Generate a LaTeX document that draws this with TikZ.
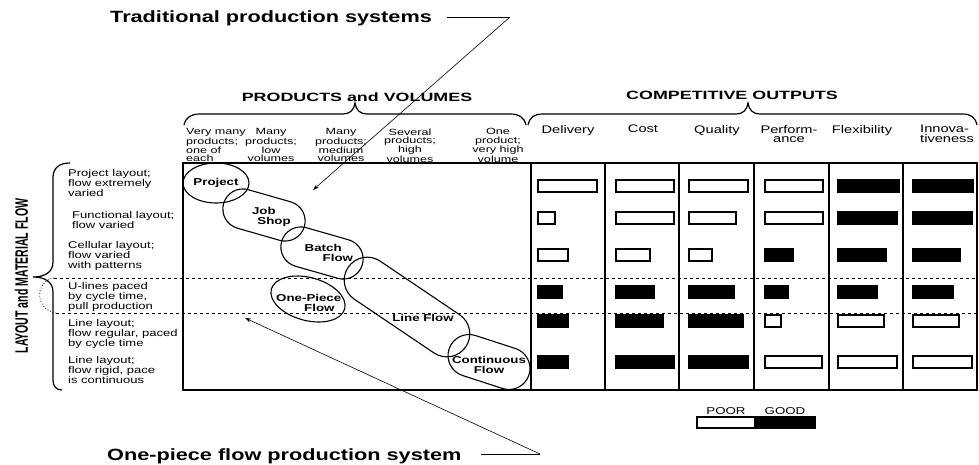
\documentclass[tikz,border=0pt]{standalone}
\usepackage{graphicx}
\usepackage{fontspec}
\setmainfont{Liberation Sans}[FakeStretch=1.33]
\newfontfamily\plainsans{Liberation Sans}
\newfontfamily\widesans{Liberation Sans}[FakeStretch=1.4]
\usetikzlibrary{shapes.geometric,shapes.misc,arrows.meta}
\begin{document}
\begin{tikzpicture}[x=1pt,y=-1pt,
  rowlbl/.style={font=\fontsize{9.8}{10}\selectfont, align=left, inner sep=0, anchor=north west},
  prodhdr/.style={font=\widesans\fontsize{9}{8.3}\selectfont, align=center, inner sep=0, anchor=north},
  comphdr/.style={font=\fontsize{11}{9.5}\selectfont, align=center, inner sep=0, anchor=north},
  bigtitle/.style={font=\bfseries\fontsize{16.3}{18}\selectfont, inner sep=0, anchor=base west},
  sectitle/.style={font=\bfseries\fontsize{12}{14}\selectfont, inner sep=0, anchor=base},
  blob/.style={draw, line width=1.1pt, rounded rectangle, inner sep=0, minimum width=84, minimum height=38},
  blobtxt/.style={font=\bfseries\fontsize{10}{9.8}\selectfont, align=left, inner sep=0},
  frame/.style={line width=1.3pt},
  bracel/.style={line width=1.2pt},
  barbox/.style={draw, line width=1.5pt},
  annot/.style={line width=0.6pt},
  annarrow/.style={line width=0.6pt, -{Stealth[length=6pt,width=4pt]}},
  dashline/.style={line width=0.9pt, dash pattern=on 3pt off 3pt},
  legtxt/.style={font=\fontsize{10}{10}\selectfont, inner sep=0, anchor=base}
]
\useasboundingbox (0,0) rectangle (979,464);

% ---- titles ----
\node[bigtitle] (trad) at (110,22) {Traditional production systems};
\node[bigtitle] (onep) at (107,460) {One-piece flow production system};
\node[sectitle] (prodvol) at (357,101) {\scalebox{1.12}[1]{PRODUCTS and VOLUMES}};
\node[sectitle] (compout) at (732,99.5) {\scalebox{1.12}[1]{COMPETITIVE OUTPUTS}};

% ---- braces ----
\draw[bracel] (184,125) .. controls (186,117) and (191,114) .. (200,114) -- (343,114)
  .. controls (350,114) and (354,110) .. (355,103) .. controls (356,110) and (360,114) .. (367,114)
  -- (510,114) .. controls (519,114) and (524,117) .. (526,125);
\draw[bracel] (528,125) .. controls (530,117) and (534,114) .. (543,114) -- (736,114)
  .. controls (743,114) and (747,110) .. (748,103) .. controls (749,110) and (753,114) .. (760,114)
  -- (962,114) .. controls (971,114) and (975,117) .. (977,125);
\draw[bracel] (70,163) .. controls (59,163) and (53,168) .. (53,178) -- (53,262)
  .. controls (53,272) and (45,277) .. (33,277) .. controls (45,277) and (53,282) .. (53,292)
  -- (53,380) .. controls (53,386) and (56,390) .. (62,390);

% ---- side label ----
\node[rotate=90, inner sep=0] (layout) at (21.5,276)
  {\plainsans\bfseries\scalebox{0.88}[1.5]{\fontsize{12}{12}\selectfont LAYOUT and MATERIAL FLOW}};

% ---- row labels ----
\node[rowlbl] (r1) at (68,169) {Project layout;\\flow extremely\\varied};
\node[rowlbl] (r2) at (72,211.5) {Functional layout;\\flow varied};
\node[rowlbl] (r3) at (68,241) {Cellular layout;\\flow varied\\with patterns};
\node[rowlbl] (r4) at (68,282) {U-lines paced\\by cycle time,\\pull production};
\node[rowlbl] (r5) at (68,319) {Line layout;\\flow regular, paced\\by cycle time};
\node[rowlbl] (r6) at (68,356.5) {Line layout;\\flow rigid, pace\\is continuous};

% ---- product headers ----
\node[prodhdr, anchor=north west, align=left] (p1) at (186,128.5) {Very many\\products;\\one of\\each};
\node[prodhdr] (p2) at (271,128.5) {Many\\products;\\low\\volumes};
\node[prodhdr] (p3) at (341,128.5) {Many\\products;\\medium\\volumes};
\node[prodhdr] (p4) at (410,128.5) {Several\\products;\\high\\volumes};
\node[prodhdr] (p5) at (498,128.5) {One\\product;\\very high\\volume};

% ---- competitive headers ----
\node[comphdr] (c1) at (568,125) {Delivery};
\node[comphdr] (c2) at (643,125) {Cost};
\node[comphdr] (c3) at (717,125) {Quality};
\node[comphdr] (c4) at (789,125) {Perform-\\ance};
\node[comphdr] (c5) at (862,125) {Flexibility};
\node[comphdr, anchor=north west, align=left] (c6) at (920,125) {Innova-\\tiveness};

% ---- frame ----
\draw[frame] (183,163) rectangle (977,390);
\foreach \xx in {531,605,679,754,829,903} \draw[frame] (\xx,163) -- (\xx,390);

% ---- process shapes ----
\node[draw, line width=1.1pt, ellipse, inner sep=0, minimum width=66, minimum height=40] (project) at (216,183) {};
\node[blob, rotate=-16, minimum height=40] (jobshop) at (264,215) {};
\node[blob, rotate=-16, minimum height=40] (batch) at (322,253) {};
\node[blob, rotate=-34, minimum width=142, minimum height=46] (lineflow) at (407,307) {};
\node[blob, rotate=-18, minimum width=84, minimum height=42] (contflow) at (489,362) {};
\node[draw, line width=1.1pt, ellipse, fill=white, inner sep=0, minimum width=76, minimum height=43, rotate=-15] (onepiece) at (308,299) {};

\node[blobtxt, align=center] (projectT) at (216,183) {Project};
\node[blobtxt, anchor=north west] (jobshopT) at (251.8,207.5) {Job\\\hspace*{5.4pt}Shop};
\node[blobtxt, anchor=north west] (batchT) at (304.5,244.5) {Batch\\\hspace*{18pt}Flow};
\node[blobtxt, anchor=north west] (onepieceT) at (276,294.5) {One-Piece\\\hspace*{28pt}Flow};
\node[blobtxt] (lineflowT) at (423,318) {Line Flow};
\node[blobtxt, align=center, anchor=north] (contflowT) at (489,356) {Continuous\\Flow};

% ---- dashed band ----
\draw[dashline] (54,278) -- (977,278);
\draw[dashline] (56,313) -- (977,313);
\draw[line width=0.8pt, dotted] (54,278) .. controls (36,280) and (33,309) .. (56,313);

% ---- bars ----
\foreach \xa/\xb/\yy/\ff in {
  538/597/186/white, 538/555/218/white, 538/568/255/white, 538/562/292/black, 538/568/321/black, 538/568/362/black,
  616/674/186/white, 616/674/218/white, 616/650/255/white, 616/654/292/black, 616/663/321/black, 616/674/362/black,
  689/748/186/white, 689/736/218/white, 689/712/255/white, 689/734/292/black, 689/743/321/black, 689/748/362/black,
  765/823/186/white, 765/823/218/white, 765/793/255/black, 765/788/292/black, 765/781/321/white, 765/822/362/white,
  838/899/186/black, 838/897/218/black, 838/886/255/black, 838/877/292/black, 838/884/321/white, 838/897/362/white,
  913/973/186/black, 913/972/218/black, 913/960/255/black, 913/953/292/black, 913/959/321/white, 913/972/362/white}
  \draw[barbox, fill=\ff] (\xa,\yy-6) rectangle (\xb,\yy+6);

% ---- legend ----
\node[legtxt] (poor) at (726,414) {POOR};
\node[legtxt] (good) at (785,414) {GOOD};
\draw[barbox, line width=1.2pt, fill=white] (697,417) rectangle (755,428);
\draw[barbox, line width=1.2pt, fill=black] (755,417) rectangle (815,428);

% ---- annotation arrows ----
\coordinate (t1) at (447,17);
\coordinate (t2) at (510,17);
\coordinate (t3) at (313,190);
\draw[annot] (t1) -- (t2);
\draw[annarrow] (t2) -- (t3);
\coordinate (o1) at (481,454);
\coordinate (o2) at (540,454);
\coordinate (o3) at (245,318);
\draw[annot] (o1) -- (o2);
\draw[annarrow] (o2) -- (o3);
\end{tikzpicture}
\end{document}
